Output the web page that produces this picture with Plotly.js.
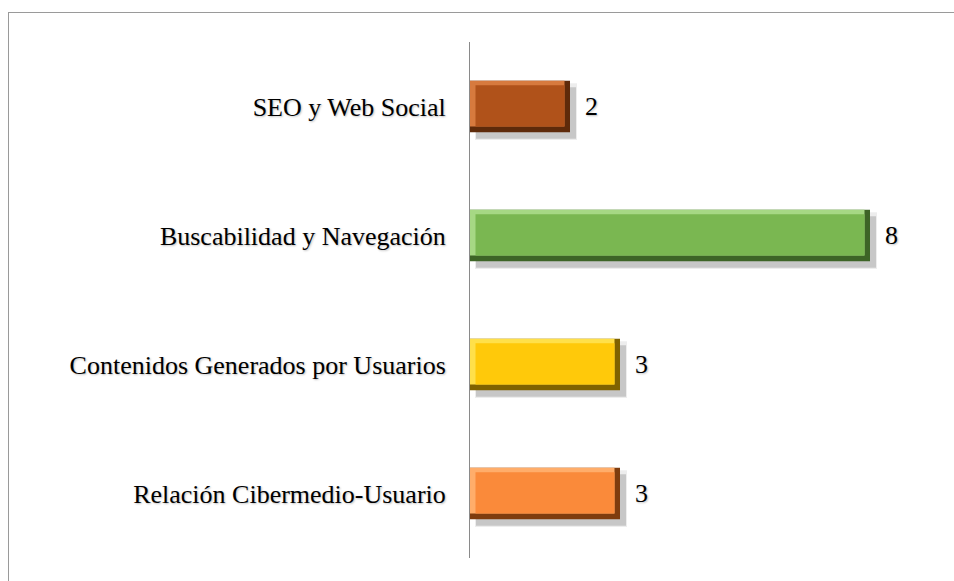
<!DOCTYPE html>
<html>
<head>
<meta charset="utf-8">
<script src="https://cdn.plot.ly/plotly-3.0.1.min.js"></script>
<style>
  html, body { margin: 0; padding: 0; background: #ffffff; }
  #chart { width: 954px; height: 581px; position: absolute; left: 0; top: 0; }
  #frame { position: absolute; left: 8px; top: 12px; width: 1000px; height: 700px;
           border: 1px solid #9a9a9a; pointer-events: none; }
  #chart text { text-shadow: 1px 1px 2px rgba(0,0,0,0.25); }
</style>
</head>
<body>
<div id="chart"></div>
<div id="frame"></div>
<script>
const categories = ["SEO y Web Social", "Buscabilidad y Navegación", "Contenidos Generados por Usuarios", "Relación Cibermedio-Usuario"];
const values = [2, 8, 3, 3];
const faceColors = ["#b0521a", "#7ab751", "#ffc90a", "#fa8a3a"];
const lightColors = ["#d77a3e", "#a6d884", "#ffe04a", "#ffad6a"];
const darkColors = ["#5e2a0a", "#3d6426", "#7f6200", "#7e3c0e"];

const serif = "Liberation Serif";
const BW = 0.4;           // bar thickness (category units)
const EDGE_X = 0.11;      // bevel size along value axis
const EDGE_TOP = 0.035;   // bevel size, top
const EDGE_BOT = 0.045;   // bevel size, bottom

function bar(xs, base, width, offset, color, extra) {
  return Object.assign({
    type: "bar", orientation: "h", y: categories, x: xs, base: base,
    width: width, offset: offset,
    marker: { color: color, line: { width: 0 } },
    hoverinfo: "skip", showlegend: false
  }, extra || {});
}

const traces = [
  // soft drop shadow
  bar(values.map(v => v + 0.04), 0.1, BW + 0.04, -BW / 2 + 0.02, "rgba(0,0,0,0.07)"),
  bar(values, 0.12, BW, -BW / 2 + 0.05, "rgba(0,0,0,0.16)"),
  // dark bevel (full bar)
  bar(values, 0, BW, -BW / 2, darkColors),
  // light bevel (top + left)
  bar(values.map(v => v - EDGE_X), 0, BW - EDGE_BOT, -BW / 2, lightColors),
  // face
  bar(values.map(v => v - 2 * EDGE_X), EDGE_X, BW - EDGE_TOP - EDGE_BOT, -BW / 2 + EDGE_TOP, faceColors)
];

const annotations = categories.map((c, i) => ({
  x: values[i], y: c, xref: "x", yref: "y",
  text: String(values[i]), showarrow: false,
  xanchor: "left", xshift: 13,
  font: { family: serif, size: 26, color: "#000" }
}));

const layout = {
  width: 954, height: 581,
  margin: { l: 470, r: 34, t: 42, b: 23 },
  paper_bgcolor: "rgba(0,0,0,0)", plot_bgcolor: "rgba(0,0,0,0)",
  barmode: "overlay",
  xaxis: { range: [0, 9], visible: false, fixedrange: true },
  yaxis: {
    autorange: "reversed", showline: true, linecolor: "#8a8a8a", linewidth: 1,
    ticks: "", showgrid: false, zeroline: false, ticklabelstandoff: 18,
    tickfont: { family: serif, size: 26, color: "#000" }
  },
  annotations: annotations
};

Plotly.newPlot("chart", traces, layout, { displayModeBar: false, staticPlot: true });
</script>
</body>
</html>
